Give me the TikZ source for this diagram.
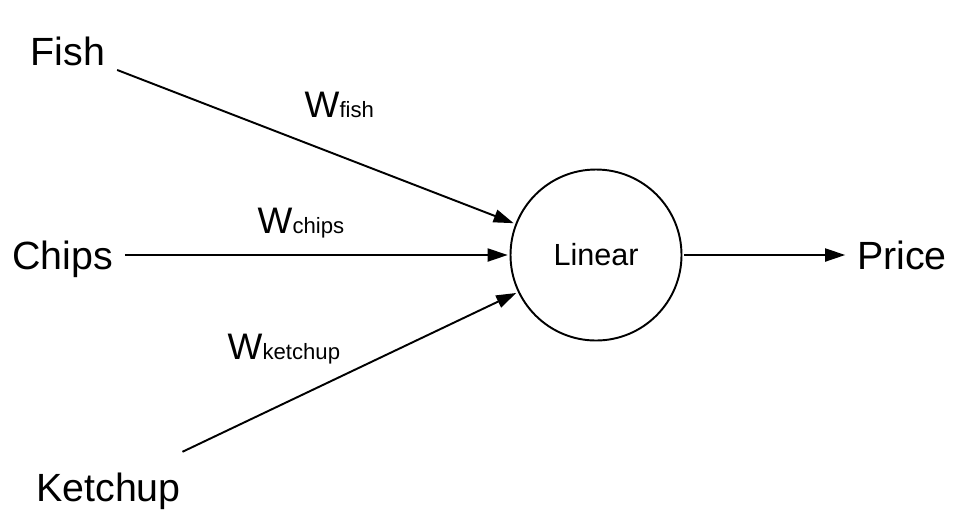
\documentclass[tikz,border=0pt]{standalone}
\usepackage{fontspec}
\setmainfont{Liberation Sans}
\usetikzlibrary{arrows.meta}

\tikzset{
  word/.style={font=\fontsize{11.2}{13}\selectfont, text height=8pt, text depth=0pt, inner sep=3.4pt, outer sep=0pt},
  unit/.style={circle, draw, line width=0.55pt, minimum size=1.71cm, inner sep=0pt, outer sep=0.8pt, font=\fontsize{8.7}{10}\selectfont},
  wt/.style={anchor=base west, inner sep=0pt},
  feed/.style={line width=0.55pt, -{Triangle[length=5.7pt,width=3.7pt]}}
}
\newcommand{\wsub}[1]{{\fontsize{10.5}{12}\selectfont W}{\fontsize{6.3}{8}\selectfont #1}}

\begin{document}
\begin{tikzpicture}

\useasboundingbox (0,0) rectangle (9.76,5.24);

% Inputs and output
\node[word] (fish)    at (0.68,4.73)  {Fish};
\node[word] (chips)   at (0.625,2.69) {Chips};
\node[word] (ketchup) at (1.085,0.37) {Ketchup};
\node[word] (price)   at (9.02,2.69)  {Price};

% Neuron
\node[unit] (lin) at (5.96,2.69) {Linear};

% Edges
\draw[feed] (fish) -- (lin);
\draw[feed] (chips) -- (lin);
\draw[feed, shorten <=6.1pt] (ketchup) -- (lin);
\draw[feed] (lin) -- (price);

% Weights
\node[wt] (wfish)    at (3.04,4.07) {\wsub{fish}};
\node[wt] (wchips)   at (2.57,2.91) {\wsub{chips}};
\node[wt] (wketchup) at (2.27,1.65) {\wsub{ketchup}};

\end{tikzpicture}
\end{document}
